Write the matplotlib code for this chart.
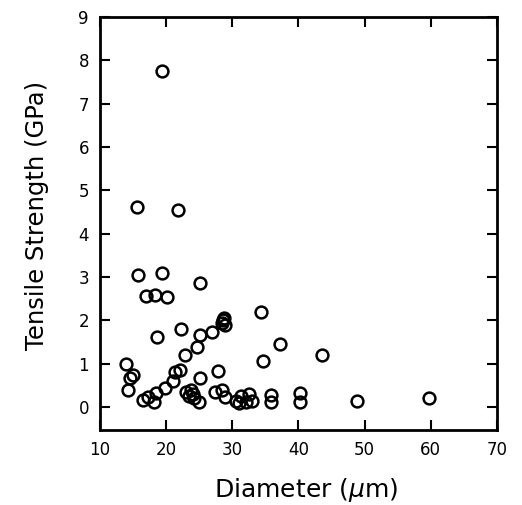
import matplotlib.pyplot as plt

# fibre diameter (um) vs tensile strength (GPa)
diameter = [19.4, 15.6, 21.8, 15.8, 19.3, 25.1, 17.0, 18.3, 20.1,
            34.4, 28.6, 28.8, 28.5, 28.9, 22.3, 18.6, 25.1, 26.9, 37.2,
            24.6, 22.8, 43.5, 34.7, 14.0, 21.3, 22.1, 27.9, 15.0, 14.5,
            25.1, 21.1, 14.2, 19.8, 18.5, 17.3, 18.1, 16.5,
            23.0, 23.5, 24.0, 24.2, 23.8, 24.9, 27.4, 28.4, 28.9,
            30.5, 31.3, 32.0, 32.5, 33.0, 31.0, 35.9, 35.9, 40.2, 40.2,
            48.9, 59.7]
strength = [7.75, 4.62, 4.55, 3.05, 3.1, 2.87, 2.56, 2.59, 2.53,
            2.2, 2.0, 2.05, 1.95, 1.9, 1.79, 1.62, 1.66, 1.74, 1.45,
            1.39, 1.2, 1.2, 1.06, 0.99, 0.82, 0.85, 0.84, 0.74, 0.67,
            0.66, 0.59, 0.39, 0.44, 0.33, 0.24, 0.12, 0.16,
            0.35, 0.25, 0.3, 0.2, 0.4, 0.12, 0.35, 0.39, 0.24,
            0.15, 0.25, 0.12, 0.3, 0.15, 0.1, 0.28, 0.12, 0.32, 0.12,
            0.14, 0.2]

xticks = [10, 20, 30, 40, 50, 60, 70]
yticks = [0, 1, 2, 3, 4, 5, 6, 7, 8, 9]

fig = plt.figure(figsize=(5.22, 5.05), dpi=100)
ax = fig.add_axes([0.1916, 0.1485, 0.7604, 0.8178])

ax.plot(diameter, strength, 'o', mfc='none', mec='black', ms=8.5, mew=1.8)

ax.set_xlim(10, 70)
ax.set_ylim(-0.53, 9)
ax.set_xticks(xticks)
ax.set_yticks(yticks)
ax.tick_params(direction='in', length=7, width=1.5, top=True, right=True,
               labelsize=12, pad=8)
for s in ax.spines.values():
    s.set_linewidth(2)

ax.set_xlabel('Diameter ($\\mu$m)', fontsize=18)
ax.set_ylabel('Tensile Strength (GPa)', fontsize=17.5)
ax.xaxis.set_label_coords(0.52, -0.146)
ax.xaxis.label.set_va('center')
ax.yaxis.set_label_coords(-0.159, 0.52)
ax.yaxis.label.set_va('center')

fig.savefig('out.png', dpi=100)
